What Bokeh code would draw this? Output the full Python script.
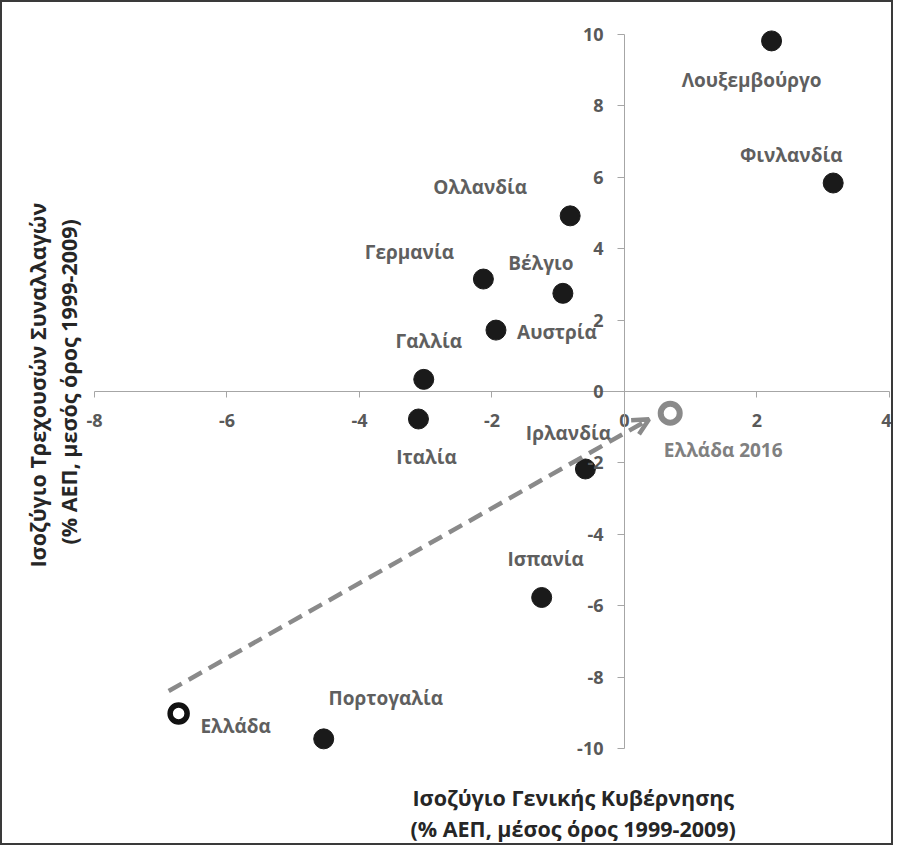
from bokeh.plotting import figure
from bokeh.models import ColumnDataSource, FixedTicker, Title, Arrow, OpenHead
from bokeh.core.properties import value
from bokeh.embed import file_html
from bokeh.resources import INLINE

# ---- data ----
countries = ["Λουξεμβούργο", "Φινλανδία", "Ολλανδία", "Γερμανία", "Βέλγιο", "Αυστρία",
             "Γαλλία", "Ιταλία", "Ιρλανδία", "Ισπανία", "Πορτογαλία"]
gov_balance = [2.22, 3.15, -0.82, -2.13, -0.93, -1.94, -3.03, -3.11, -0.59, -1.25, -4.54]
current_account = [9.82, 5.84, 4.92, 3.15, 2.75, 1.72, 0.34, -0.77, -2.17, -5.77, -9.73]

greece_label = ["Ελλάδα"]
greece_gov = [-6.73]
greece_ca = [-9.02]

greece16_label = ["Ελλάδα 2016"]
greece16_gov = [0.69]
greece16_ca = [-0.61]

arrow_from = [-6.88, -8.39]
arrow_to = [0.37, -0.78]

x_ticks = [-8, -6, -4, -2, 0, 2, 4]
y_ticks = [-10, -8, -6, -4, -2, 0, 2, 4, 6, 8, 10]

x_title = ["Ισοζύγιο Γενικής Κυβέρνησης", "(% ΑΕΠ, μέσος όρος 1999-2009)"]
y_title = ["Ισοζύγιο Τρεχουσών Συναλλαγών", "(% ΑΕΠ, μεσός όρος 1999-2009)"]

# label offsets in screen pixels (layout, not data)
lab_dx = [-20, -42, -90, -74, -22, 61, 5, 8, -17, 4, 62]
lab_dy = [39, -28, -29, -27, -30, 2, -38, 38, -36, -38, -41]

FONT = "Open Sans"
LABEL_COLOR = "#5f5f5f"
TICK_COLOR = "#595959"
AXIS_COLOR = "#a6a6a6"
GREY = "#8a8a8a"

p = figure(width=893, height=845,
           x_range=(-8.181, 4.0906), y_range=(-10.896, 10.840),
           output_backend="svg", toolbar_location=None,
           min_border_left=80, min_border_right=0,
           min_border_top=2, min_border_bottom=67)
p.styles = {"border": "2px solid #3a3a3a"}
p.outline_line_color = None
p.grid.visible = False
p.background_fill_color = "white"
p.border_fill_color = "white"

for ax, ticks, bnds in ((p.xaxis, x_ticks, (-8, 4)), (p.yaxis, y_ticks, (-10, 10))):
    ax.fixed_location = 0
    ax.ticker = FixedTicker(ticks=ticks)
    ax.major_label_overrides = {t: str(t) for t in ticks}
    ax.bounds = bnds
    ax.axis_line_color = AXIS_COLOR
    ax.axis_line_width = 1
    ax.major_tick_line_color = AXIS_COLOR
    ax.major_tick_in = 0
    ax.minor_tick_line_color = None
    ax.major_label_text_font = FONT
    ax.major_label_text_font_style = "bold"
    ax.major_label_text_font_size = "18px"
    ax.major_label_text_color = TICK_COLOR
p.xaxis.major_tick_out = 6
p.yaxis.major_tick_out = 7
p.xaxis.major_label_standoff = 16
p.yaxis.major_label_standoff = 14

# arrow Greece -> Greece 2016
p.add_layout(Arrow(x_start=arrow_from[0], y_start=arrow_from[1],
                   x_end=arrow_to[0], y_end=arrow_to[1],
                   line_color=GREY, line_width=4.5, line_dash="15 8",
                   end=OpenHead(size=16, line_color=GREY, line_width=4.5)))

src = ColumnDataSource(dict(x=gov_balance, y=current_account, name=countries,
                            dx=lab_dx, dy=lab_dy))
p.scatter("x", "y", source=src, size=20, color="#1a1a1a")
p.text("x", "y", text="name", source=src, x_offset="dx", y_offset="dy",
       text_font=value(FONT), text_font_style="bold", text_font_size="19px",
       text_color=LABEL_COLOR, text_align="center", text_baseline="middle")

gsrc = ColumnDataSource(dict(x=greece_gov, y=greece_ca, name=greece_label))
p.scatter("x", "y", source=gsrc, size=17, fill_color="white",
          line_color="#111111", line_width=5.5)
p.text("x", "y", text="name", source=gsrc, x_offset=57, y_offset=12,
       text_font=value(FONT), text_font_style="bold", text_font_size="19px",
       text_color=LABEL_COLOR, text_align="center", text_baseline="middle")

g16 = ColumnDataSource(dict(x=greece16_gov, y=greece16_ca, name=greece16_label))
p.scatter("x", "y", source=g16, size=19, fill_color="white",
          line_color=GREY, line_width=6)
p.text("x", "y", text="name", source=g16, x_offset=53, y_offset=37,
       text_font=value(FONT), text_font_style="bold", text_font_size="19px",
       text_color="#808080", text_align="center", text_baseline="middle")

# axis titles
title_kw = dict(text_font=FONT, text_font_style="bold", text_font_size="21.5px",
                text_color="#262626")
p.add_layout(Title(text=x_title[0], align="left", offset=330, standoff=0, **title_kw), "below")
p.add_layout(Title(text=x_title[1], align="left", offset=328, standoff=0, **title_kw), "below")
p.add_layout(Title(text=y_title[1], align="left", offset=236, standoff=0, **title_kw), "left")
p.add_layout(Title(text=y_title[0], align="left", offset=213, standoff=0, **title_kw), "left")

open("out.html", "w").write(file_html(p, INLINE))
